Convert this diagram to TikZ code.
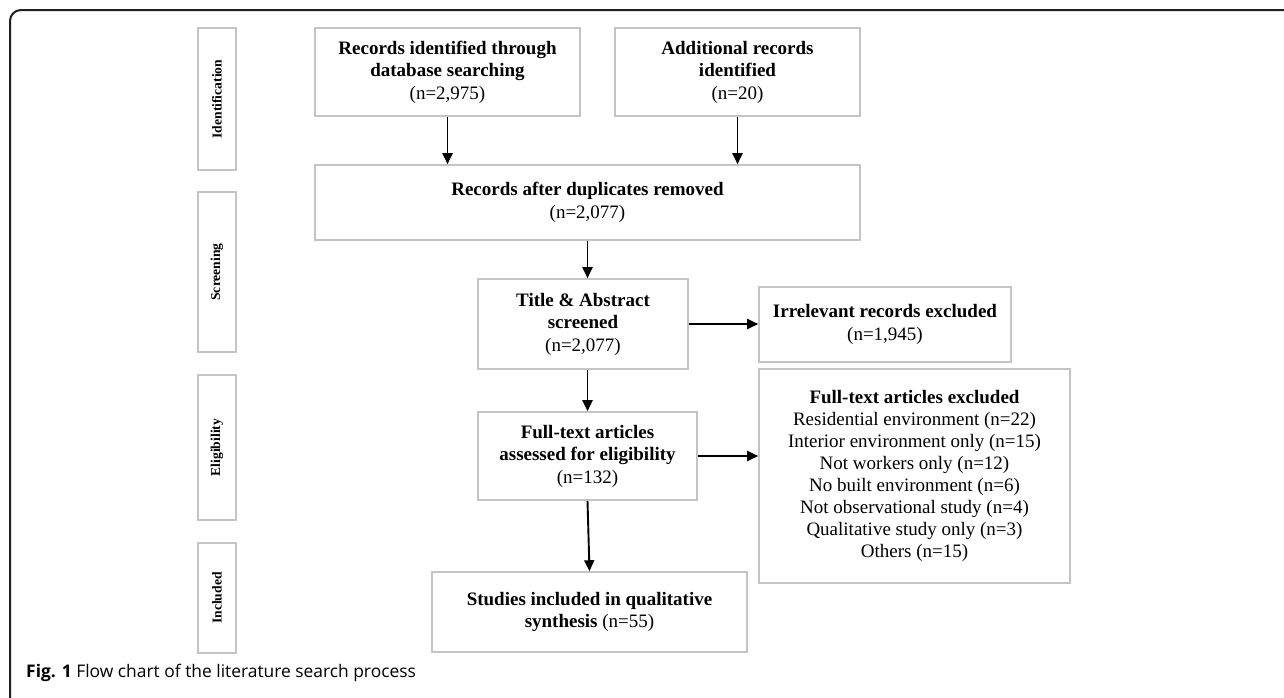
\documentclass[tikz,border=0pt]{standalone}
\usepackage{fontspec}
\setmainfont{Liberation Serif}
\newfontfamily\capfont{Open Sans}
\usetikzlibrary{arrows.meta}
\definecolor{boxgray}{HTML}{C4C4C4}
\begin{document}
\begin{tikzpicture}[x=1pt,y=-1pt,
  box/.style={draw=boxgray,line width=1.6pt,inner sep=0pt,align=center,
    font=\fontsize{19}{22.5}\selectfont},
  stagebox/.style={draw=boxgray,line width=1.6pt,inner sep=0pt,rotate=90,
    minimum height=38pt,font=\fontsize{13.6}{15}\selectfont\bfseries},
  arr/.style={line width=1.9pt,-{Triangle[length=11pt,width=10pt]}}]
\useasboundingbox (0,0) rectangle (1284,697);
\clip (0,0) rectangle (1284,697);
\fill[white] (0,0) rectangle (1284,697);
\draw[line width=2pt,color=black!88,rounded corners=11pt] (10,710) -- (10,10) -- (1300,10);

% stage labels
\node[stagebox,minimum width=142pt] (sid) at (217,99) {Identification};
\node[stagebox,minimum width=160pt] (ssc) at (217,272) {Screening};
\node[stagebox,minimum width=145pt] (sel) at (217,447.5) {Eligibility};
\node[stagebox,minimum width=110pt] (sin) at (217,598) {Included};

% flow boxes
\node[box,minimum width=265pt,minimum height=88pt] (rec) at (447.5,72)
  {\textbf{Records identified through}\\\textbf{database searching}\\(n=2,975)};
\node[box,minimum width=245pt,minimum height=88pt] (add) at (737.5,72)
  {\textbf{Additional records}\\\textbf{identified}\\(n=20)};
\node[box,minimum width=545pt,minimum height=75pt] (dup) at (587.5,202.5)
  {\textbf{Records after duplicates removed}\\(n=2,077)};
\node[box,minimum width=210pt,minimum height=90pt] (tit) at (583,324)
  {\textbf{Title \& Abstract}\\\textbf{screened}\\(n=2,077)};
\node[box,minimum width=252pt,minimum height=75pt] (irr) at (885,324.5)
  {\textbf{Irrelevant records excluded}\\(n=1,945)};
\node[box,minimum width=219pt,minimum height=88pt] (ft) at (587.5,456)
  {\textbf{Full-text articles}\\\textbf{assessed for eligibility}\\(n=132)};
\node[box,minimum width=311pt,minimum height=214pt,font=\fontsize{19}{22}\selectfont] (exc) at (914.5,476)
  {\textbf{Full-text articles excluded}\\Residential environment (n=22)\\Interior environment only (n=15)\\Not workers only (n=12)\\No built environment (n=6)\\Not observational study (n=4)\\Qualitative study only (n=3)\\Others (n=15)};
\node[box,minimum width=315pt,minimum height=80pt] (stu) at (589.5,612)
  {\textbf{Studies included in qualitative}\\\textbf{synthesis} (n=55)};

% connectors
\draw[arr] (rec.south) -- (rec.south |- dup.north);
\draw[arr] (add.south) -- (add.south |- dup.north);
\draw[arr] (dup.south) -- (dup.south |- tit.north);
\draw[arr] (tit.east) -- (tit.east -| irr.west);
\draw[arr] (tit.south -| dup.south) -- (dup.south |- ft.north);
\draw[arr] (ft.east) -- (ft.east -| exc.west);
\draw[arr] (ft.south) -- (stu.north);

% caption
\node[anchor=base west,inner sep=0pt,font=\capfont\fontsize{17.4}{20}\selectfont] (cap) at (26,677)
  {\textbf{Fig. 1} Flow chart of the literature search process};
\end{tikzpicture}
\end{document}
